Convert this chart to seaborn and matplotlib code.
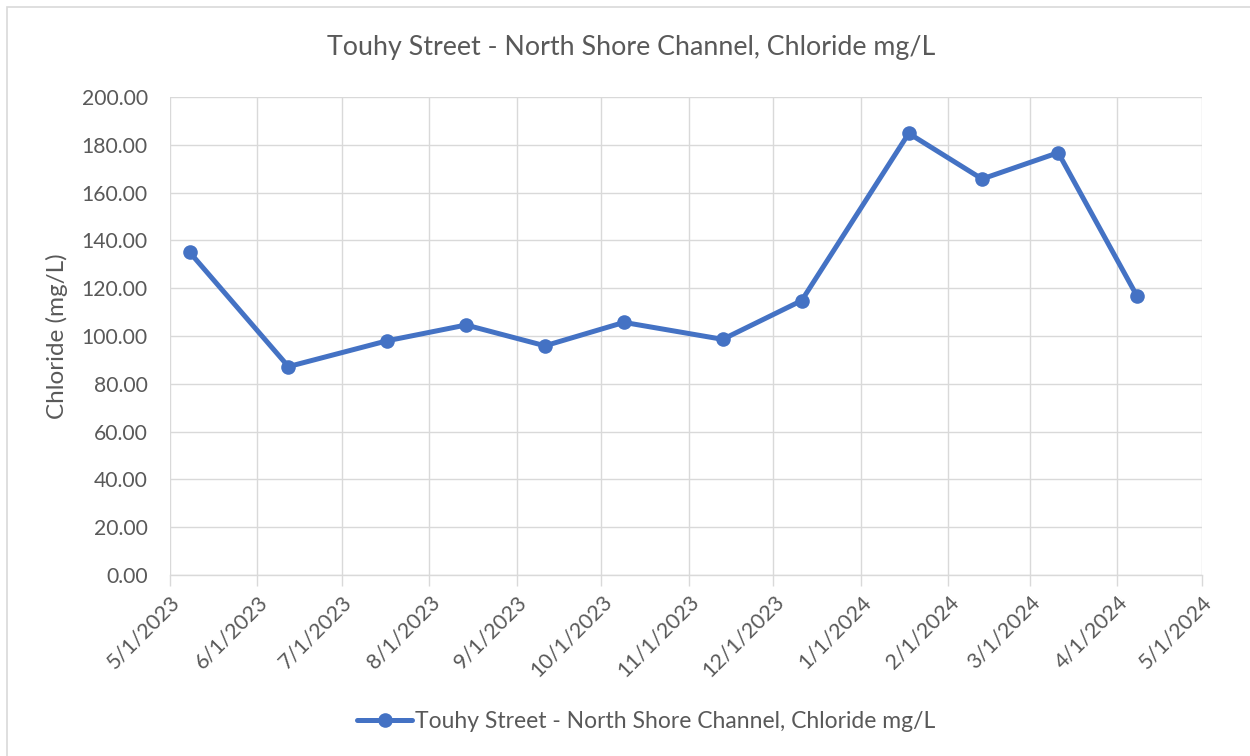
import matplotlib
matplotlib.use("Agg")
import matplotlib.pyplot as plt
import matplotlib.dates as mdates
from matplotlib.ticker import FuncFormatter
from matplotlib.patches import Rectangle
import seaborn as sns
import pandas as pd

# ---- data ----
sample_dates = ["2023-05-08", "2023-06-12", "2023-07-17", "2023-08-14",
                "2023-09-11", "2023-10-09", "2023-11-13", "2023-12-11",
                "2024-01-18", "2024-02-13", "2024-03-11", "2024-04-08"]
chloride = [135.0, 87.2, 98.0, 104.6, 95.9, 105.7, 98.6, 114.8,
            184.8, 165.7, 176.7, 116.6]
series_name = "Touhy Street - North Shore Channel, Chloride mg/L"
title_text = "Touhy Street - North Shore Channel, Chloride mg/L"
y_label = "Chloride (mg/L)"
y_ticks = [0, 20, 40, 60, 80, 100, 120, 140, 160, 180, 200]
x_start = "2023-05-01"
x_end = "2024-05-01"

TEXT = "#595959"
GRID = "#d9d9d9"
BLUE = "#4472C4"

sns.set_theme(style="white")
plt.rcParams['font.family'] = ['Lato', 'DejaVu Sans']

W, H = 1250, 756
fig = plt.figure(figsize=(W / 100, H / 100), dpi=100)
fig.patch.set_facecolor("white")

left, right, top, bottom = 170, 1202, 97, 575
ax = fig.add_axes([left / W, 1 - bottom / H, (right - left) / W, (bottom - top) / H])

df = pd.DataFrame({"date": pd.to_datetime(sample_dates),
                   "value": chloride,
                   "series": series_name})
sns.lineplot(data=df, x="date", y="value", hue="series", palette=[BLUE],
             marker="o", markersize=10.5, markeredgewidth=0, linewidth=3.6,
             ax=ax, legend=True, zorder=3)

ax.set_xlim(pd.Timestamp(x_start), pd.Timestamp(x_end))
ax.set_ylim(y_ticks[0], y_ticks[-1])
ax.set_yticks(y_ticks)
ax.yaxis.set_major_formatter(FuncFormatter(lambda v, _: f"{v:.2f}"))
ax.xaxis.set_major_locator(mdates.MonthLocator())
ax.xaxis.set_major_formatter(FuncFormatter(
    lambda v, _: (lambda d: f"{d.month}/{d.day}/{d.year}")(mdates.num2date(v))))

ax.grid(True, color=GRID, linewidth=1.0)
ax.set_axisbelow(True)
for s in ax.spines.values():
    s.set_visible(False)
ax.spines['bottom'].set_visible(True)
ax.spines['bottom'].set_color(GRID)
ax.spines['bottom'].set_linewidth(1.0)

ax.tick_params(axis='x', length=8, width=1.0, color=GRID, direction='out',
               labelsize=15.5, labelcolor=TEXT, pad=4, bottom=True)
ax.tick_params(axis='y', length=0, labelsize=15.2, labelcolor=TEXT, pad=16)
for lbl in ax.get_xticklabels():
    lbl.set_rotation(45)
    lbl.set_ha('right')
    lbl.set_va('top')
    lbl.set_rotation_mode('anchor')

ax.set_xlabel("")
ax.set_ylabel(y_label, fontsize=17.5, color=TEXT, labelpad=10)

fig.text(631 / W, 1 - 47 / H, title_text, ha='center', va='center',
         fontsize=19.3, color=TEXT)

handles, labels = ax.get_legend_handles_labels()
ax.legend_.remove()
fig.legend(handles, labels, loc='center', bbox_to_anchor=(646 / W, 1 - 722 / H),
           frameon=False, fontsize=16.5, labelcolor=TEXT, handlelength=2.4,
           handletextpad=0.1)

fig.patches.append(Rectangle((7 / W, -0.05), 1.05, 1 - 7 / H + 0.05,
                             transform=fig.transFigure, fill=False,
                             edgecolor=GRID, linewidth=1.2))

fig.savefig("out.png", dpi=100)
